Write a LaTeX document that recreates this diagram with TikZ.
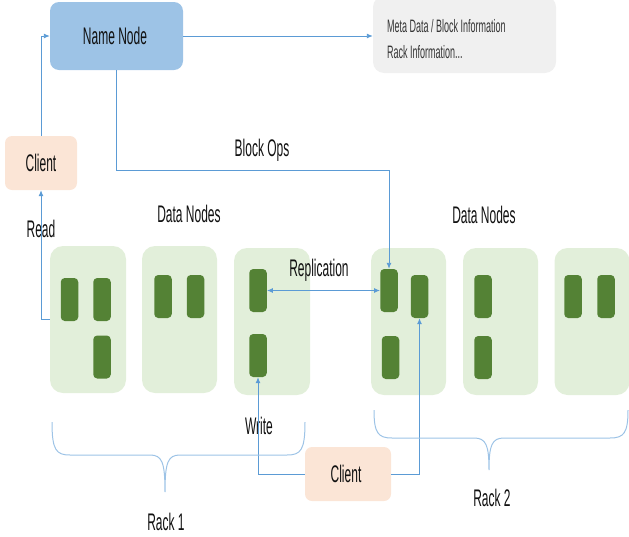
\documentclass[tikz,border=0pt]{standalone}
\usepackage{fontspec}
\setmainfont[FakeStretch=0.5]{Liberation Sans}
\usetikzlibrary{arrows.meta}

\definecolor{nameblue}{HTML}{9DC3E6}
\definecolor{metagray}{HTML}{F0F0F0}
\definecolor{clientpeach}{HTML}{FBE5D6}
\definecolor{dnfill}{HTML}{E2EFDA}
\definecolor{blockgreen}{HTML}{548235}
\definecolor{linkblue}{HTML}{5B9BD5}
\definecolor{bracecol}{HTML}{9DC3E6}
\definecolor{txt}{HTML}{111111}

\tikzset{
  box/.style={inner sep=0pt, rounded corners=#1},
  namebox/.style={box=9pt, fill=nameblue},
  metabox/.style={box=11pt, fill=metagray},
  clientbox/.style={box=7pt, fill=clientpeach},
  dnbox/.style={box=13pt, fill=dnfill},
  blk/.style={box=4pt, fill=blockgreen, minimum width=17.5pt, minimum height=43pt},
  lbl/.style={inner sep=0pt, text=txt, font=\fontsize{24}{28}\selectfont},
  small/.style={inner sep=0pt, text=txt!85, font=\fontsize{18}{26}\selectfont, align=left},
  conn/.style={draw=linkblue, line width=0.9pt},
  tip/.style={-{Latex[length=6pt,width=5pt]}},
  brace/.style={draw=bracecol, line width=1pt},
}

\begin{document}
\begin{tikzpicture}[x=1pt,y=-1pt]
\useasboundingbox (0,0) rectangle (629,536);

% name node and metadata
\node[namebox, minimum width=133pt, minimum height=68pt] (nn) at (116.5,36) {};
\node[lbl] (nnt) at (115,36) {Name Node};
\node[metabox, minimum width=183pt, minimum height=77pt] (meta) at (464.5,34.5) {};
\node[small, anchor=west] (metat) at (387,39) {Meta Data / Block Information\\Rack Information...};

% read client
\node[clientbox, minimum width=72pt, minimum height=54pt] (c1) at (41,163) {};
\node[lbl] (c1t) at (41,163) {Client};

% data nodes, rack 1
\node[dnbox, minimum width=76pt, minimum height=147pt] (dn1) at (88,319.5) {};
\node[dnbox, minimum width=75pt, minimum height=147pt] (dn2) at (179.5,319.5) {};
\node[dnbox, minimum width=76pt, minimum height=147pt] (dn3) at (272,321.5) {};
% data nodes, rack 2
\node[dnbox, minimum width=75pt, minimum height=147pt] (dn4) at (408.5,321.5) {};
\node[dnbox, minimum width=75pt, minimum height=147pt] (dn5) at (500.5,321.5) {};
\node[dnbox, minimum width=75pt, minimum height=147pt] (dn6) at (592,321.5) {};

% blocks
\node[blk] (b11) at (69.5,299.5) {};
\node[blk] (b12) at (102,299.5) {};
\node[blk] (b13) at (102,357) {};
\node[blk] (b21) at (163,296.5) {};
\node[blk] (b22) at (195.5,296.5) {};
\node[blk] (b31) at (258,290.5) {};
\node[blk] (b32) at (258,355.5) {};
\node[blk] (b41) at (389,290.5) {};
\node[blk] (b42) at (419.5,296.5) {};
\node[blk] (b43) at (390.5,357.5) {};
\node[blk] (b51) at (483,296.5) {};
\node[blk] (b52) at (483,357.5) {};
\node[blk] (b61) at (573,296.5) {};
\node[blk] (b62) at (606,296.5) {};

% write client
\node[clientbox, minimum width=86pt, minimum height=54pt] (c2) at (348,474) {};
\node[lbl] (c2t) at (346,474) {Client};

% labels
\node[lbl] (lblops) at (262,150) {Block Ops};
\node[lbl] (lread) at (41,229) {Read};
\node[lbl] (ldn1) at (189,214) {Data Nodes};
\node[lbl] (ldn2) at (484,215) {Data Nodes};
\node[lbl] (lrep) at (319,270) {Replication};
\node[lbl] (lwrite) at (259,426) {Write};
\node[lbl] (lr1) at (166,522) {Rack 1};
\node[lbl] (lr2) at (492,498) {Rack 2};

% connectors
\coordinate (bo) at (0,170);
\draw[conn, tip] (nn.east) -- (nn.east -| meta.west);
\draw[conn, tip] (c1.north) |- (nn.west);
\draw[conn, tip] (dn1.west) -| (c1.south);
\draw[conn, tip] (nn.south) -- (nn.south |- bo) -| (b41.north);
\draw[conn, {Latex[length=6pt,width=5pt]}-{Latex[length=6pt,width=5pt]}] (b31.east) -- (b41.west);
\draw[conn, tip] (c2.west) -| (b32.south);
\draw[conn, tip] (c2.east) -| (b42.south);

% rack braces
\draw[brace] (52,422) .. controls (52,450) and (56,455) .. (70,455) -- (150,455)
  .. controls (162,455) and (165,462) .. (165,492)
  .. controls (165,462) and (168,455) .. (180,455) -- (287,455)
  .. controls (301,455) and (305,450) .. (305,422);
\draw[brace] (374,410) .. controls (374,433) and (378,438) .. (392,438) -- (474,438)
  .. controls (486,438) and (489,445) .. (489,470)
  .. controls (489,445) and (492,438) .. (504,438) -- (610,438)
  .. controls (624,438) and (628,433) .. (628,410);
\end{tikzpicture}
\end{document}
